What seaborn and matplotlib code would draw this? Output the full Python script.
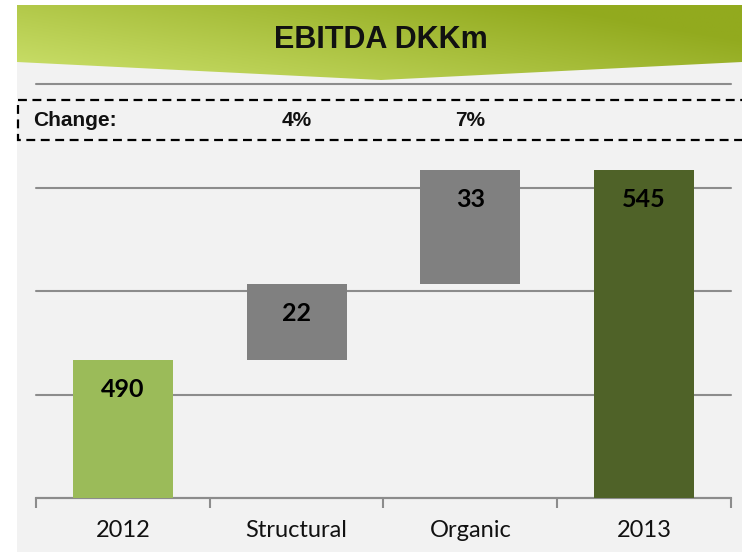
import numpy as np
import pandas as pd
import matplotlib
matplotlib.use("Agg")
import matplotlib.pyplot as plt
from matplotlib.patches import Polygon, Rectangle
import seaborn as sns

# Waterfall data
categories = ["2012", "Structural", "Organic", "2013"]
values = [490, 22, 33, 545]
is_total = [True, False, False, True]
change_labels = ["", "4%", "7%", ""]
bar_colors = ["#9bbb59", "#808080", "#808080", "#4f6228"]

# bottoms for the floating bars
bottoms = []
running = 0
for v, tot in zip(values, is_total):
    if tot:
        bottoms.append(0)
        running = v
    else:
        bottoms.append(running)
        running += v

df = pd.DataFrame({"category": categories, "value": values})

sns.set_theme(style="white")
plt.rcParams["font.family"] = ["Lato", "DejaVu Sans"]

W, H = 742, 552
fig = plt.figure(figsize=(W / 100, H / 100), dpi=100, facecolor="white")

# background layer in pixel coords
bg = fig.add_axes([0, 0, 1, 1], zorder=0)
bg.set_xlim(0, W)
bg.set_ylim(H, 0)
bg.axis("off")
bg.add_patch(Rectangle((17, 5), W, H, facecolor="#f2f2f2", edgecolor="none"))

# green banner with gradient
banner = Polygon([(17, 5), (W, 5), (W, 62), (381, 80), (17, 62)], closed=True,
                 facecolor="none", edgecolor="none")
bg.add_patch(banner)
gx, gy = np.meshgrid(np.linspace(0, 1, 200), np.linspace(0, 1, 60))
t = np.clip(0.75 * gx + 0.45 * (1 - gy), 0, 1)  # gy=0 top
light = np.array([205, 226, 110]) / 255
dark = np.array([146, 170, 30]) / 255
img = light[None, None, :] * (1 - t[..., None]) + dark[None, None, :] * t[..., None]
im = bg.imshow(img, extent=(17, W, 82, 5), aspect="auto", zorder=1)
im.set_clip_path(banner)
bg.text(381, 40, "EBITDA DKKm", ha="center", va="center", fontsize=22,
        fontweight="bold", family=["Liberation Sans", "DejaVu Sans"], color="#111111")

# dashed "Change" box
bg.add_patch(Rectangle((17.5, 99.5), 800, 40.5, facecolor="none", edgecolor="black",
                       linestyle=(0, (4, 2.5)), linewidth=1.6, clip_on=False))
bg.text(33, 121, "Change:", ha="left", va="center", fontsize=15, fontweight="bold",
        family=["Liberation Sans", "DejaVu Sans"], color="#111111")

# main chart axes
ax = fig.add_axes([36 / W, 1 - 498 / H, (731 - 36) / W, (498 - 84) / H], zorder=1)
ax.patch.set_alpha(0)
sns.barplot(data=df, x="category", y="value", order=categories, bottom=bottoms,
            color="#808080", width=0.575, saturation=1, ax=ax, zorder=3)
for patch, c in zip(ax.patches, bar_colors):
    patch.set_facecolor(c)
    patch.set_edgecolor("none")

ax.set_ylim(450, 570)
ax.set_xlim(-0.5, len(categories) - 0.5)
ax.set_yticks([450, 480, 510, 540, 570])
ax.yaxis.grid(True, color="#8c8c8c", linewidth=1.5)
for gl in ax.get_ygridlines():
    gl.set_clip_on(False)
ax.set_axisbelow(True)
ax.tick_params(axis="y", left=False, labelleft=False)
for s in ["top", "left", "right"]:
    ax.spines[s].set_visible(False)
ax.spines["bottom"].set_color("#8c8c8c")
ax.spines["bottom"].set_linewidth(1.5)
ax.set_xlabel("")
ax.set_ylabel("")

# category ticks at boundaries, labels at centres
ax.set_xticks(np.arange(len(categories) + 1) - 0.5, minor=False)
ax.set_xticklabels([])
ax.set_xticks(np.arange(len(categories)), minor=True)
ax.set_xticklabels(categories, minor=True, fontsize=17, color="#111111")
ax.tick_params(axis="x", which="major", bottom=True, length=7, width=1.5,
               color="#8c8c8c", direction="out")
ax.tick_params(axis="x", which="minor", bottom=False, pad=12)

# value labels inside the bars
for i, (b, v) in enumerate(zip(bottoms, values)):
    top = b + v
    ax.annotate(str(v), xy=(i, top), xytext=(0, -29), textcoords="offset pixels",
                ha="center", va="center", fontsize=18, fontweight="bold", color="black",
                zorder=5)

# change percentages in the dashed box
trans = matplotlib.transforms.blended_transform_factory(ax.transData, fig.transFigure)
for i, lab in enumerate(change_labels):
    if lab:
        fig.text(i, 1 - 121 / H, lab, transform=trans, ha="center", va="center",
                 fontsize=15, fontweight="bold",
                 family=["Liberation Sans", "DejaVu Sans"], color="#111111")

fig.savefig("out.png", dpi=100, facecolor="white")
